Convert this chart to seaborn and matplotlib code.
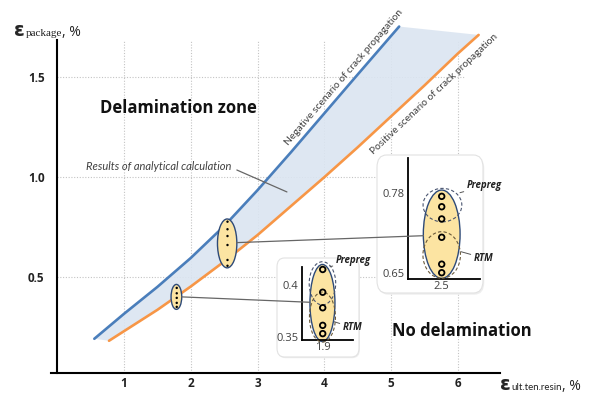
import numpy as np
import matplotlib
matplotlib.use("Agg")
import matplotlib.pyplot as plt
from matplotlib.patches import Ellipse, FancyBboxPatch, ConnectionPatch
import seaborn as sns

# ---- data -------------------------------------------------------------
# ultimate tensile strain of resin (x, %) vs package strain (y, %)
neg_x = [0.556, 1.0, 1.5, 2.0, 2.5, 3.0, 3.5, 4.0, 4.5, 5.12]
neg_y = [0.19, 0.315, 0.45, 0.595, 0.755, 0.935, 1.125, 1.32, 1.515, 1.755]
pos_x = [0.776, 1.0, 1.5, 2.0, 2.5, 3.0, 3.5, 4.0, 4.5, 5.0, 5.5, 6.0, 6.31]
pos_y = [0.18, 0.228, 0.335, 0.452, 0.577, 0.71, 0.855, 1.0, 1.15, 1.305,
         1.46, 1.62, 1.713]

x_ticks = [1, 2, 3, 4, 5, 6]
y_ticks = [0.5, 1.0, 1.5]
y_tick_labels = ["0.5", "1.0", "1.5"]

# measured groups on the main chart
grp_small_x = 1.79
grp_small_y = [0.445, 0.418, 0.395, 0.37, 0.35]
grp_big_x = 2.55
grp_big_y = [0.777, 0.739, 0.705, 0.66, 0.585, 0.556]

# zoomed groups (Prepreg / RTM)
zoom_small_x = 1.9
zoom_small_y = [0.415, 0.393, 0.378, 0.361, 0.353]
zoom_small_ticks = [0.35, 0.4]
zoom_small_labels = ["0.35", "0.4"]
zoom_big_x = 2.5
zoom_big_y = [0.775, 0.758, 0.738, 0.708, 0.664, 0.65]
zoom_big_ticks = [0.65, 0.78]
zoom_big_labels = ["0.65", "0.78"]

# ---- style ------------------------------------------------------------
sns.set_theme(style="white")
plt.rcParams["font.family"] = ["Open Sans", "DejaVu Sans"]

W, H = 597, 394
BLUE = "#4a7ebb"
ORANGE = "#f79646"
FILL = "#dbe5f1"
YELLOW = "#fce4a2"
EDGE = "#2e4a78"
GRID = "#c4c4c4"
TXT = "#404040"


def frac(px, py):
    return px / W, 1 - py / H


fig = plt.figure(figsize=(W / 100, H / 100), dpi=100)
fig.patch.set_facecolor("white")

# ---- main axes --------------------------------------------------------
ax = fig.add_axes([50.5 / W, 1 - 373 / H, 449.5 / W, 368 / H])
ax.set_xlim(-0.1, 6.63)
ax.set_ylim(0.0185, 1.863)
ax.patch.set_visible(False)
for s in ("top", "right"):
    ax.spines[s].set_visible(False)
ax.spines["left"].set_position(("data", 0))
ax.spines["left"].set_bounds(0.0185, 1.69)
for s in ("left", "bottom"):
    ax.spines[s].set_color("black")
    ax.spines[s].set_linewidth(1.5)

ax.set_xticks(x_ticks)
ax.set_xticklabels([str(t) for t in x_ticks])
ax.set_yticks(y_ticks)
ax.set_yticklabels(y_tick_labels)
ax.tick_params(length=0)
ax.tick_params(axis="x", pad=3)
ax.tick_params(axis="y", pad=9)
for lab in ax.get_xticklabels() + ax.get_yticklabels():
    lab.set_fontweight("bold")
    lab.set_fontsize(8.5)
    lab.set_color("#222222")

ax.vlines(x_ticks, 0.0185, 1.69, colors=GRID, linestyles=(0, (1, 1.5)),
          lw=0.8, zorder=0.5)
ax.hlines(y_ticks, 0, 6.1, colors=GRID, linestyles=(0, (1, 1.5)),
          lw=0.8, zorder=0.5)

# band between the two scenarios
ax.fill(np.r_[neg_x, pos_x[::-1]], np.r_[neg_y, pos_y[::-1]],
        color=FILL, alpha=0.9, lw=0, zorder=1)
sns.lineplot(x=neg_x, y=neg_y, ax=ax, color=BLUE, lw=1.9, zorder=3,
             estimator=None, sort=False)
sns.lineplot(x=pos_x, y=pos_y, ax=ax, color=ORANGE, lw=1.9, zorder=3,
             estimator=None, sort=False)

# groups on the band
ax.add_patch(Ellipse((1.785, 0.40), 0.16, 0.125, fc=YELLOW, ec=EDGE,
                     lw=1.0, zorder=4))
ax.add_patch(Ellipse((2.545, 0.668), 0.29, 0.245, fc=YELLOW, ec=EDGE,
                     lw=1.0, zorder=4))
sns.scatterplot(x=[grp_small_x] * len(grp_small_y), y=grp_small_y, ax=ax,
                color="black", s=3, edgecolor="none", zorder=5, legend=False)
sns.scatterplot(x=[grp_big_x] * len(grp_big_y), y=grp_big_y, ax=ax,
                color="black", s=3, edgecolor="none", zorder=5, legend=False)

# labels
ax.text(1.81, 1.347, "Delamination zone", fontsize=12, fontweight="bold",
        ha="center", va="center", color="#111111")
ax.text(6.06, 0.23, "No delamination", fontsize=12, fontweight="bold",
        ha="center", va="center", color="#111111")
ax.text(1.52, 1.056, "Results of analytical calculation", fontsize=8,
        style="italic", ha="center", va="center", color=TXT, family="Lato")
ax.plot([2.69, 3.44], [1.036, 0.926], color="#666666", lw=0.9, zorder=6)
ax.text(4.30, 1.50, "Negative scenario of crack propagation", fontsize=7.4,
        rotation=49.3, rotation_mode="anchor", ha="center", va="center",
        color=TXT, family="Lato")
ax.text(5.64, 1.416, "Positive scenario of crack propagation", fontsize=7.4,
        rotation=43.3, rotation_mode="anchor", ha="center", va="center",
        color=TXT, family="Lato")

# axis titles
fig.text(*frac(14, 36.5), "ε", fontsize=14, fontweight="bold",
         va="baseline", ha="left", family="DejaVu Sans")
fig.text(*frac(26, 36.5), "package", fontsize=8, va="baseline", ha="left",
         family="Liberation Serif", color="#222222")
fig.text(*frac(62, 36.5), ", %", fontsize=10, va="baseline", ha="left",
         color="#222222")
fig.text(*frac(500, 390), "ε", fontsize=14, fontweight="bold",
         va="baseline", ha="left", family="DejaVu Sans")
fig.text(*frac(511, 390), "ult.ten.resin", fontsize=7, va="baseline",
         ha="left", family="Lato", color="#222222")
fig.text(*frac(562, 390), ", %", fontsize=10, va="baseline", ha="left",
         color="#222222")


# ---- zoomed panels ----------------------------------------------------
def zoom_panel(box_px, xlim, ylim, sx, sy, xb, yb):
    x0, y0, x1, y1 = box_px
    a = fig.add_axes([x0 / W, 1 - y1 / H, (x1 - x0) / W, (y1 - y0) / H])
    a.set_xlim(*xlim)
    a.set_ylim(*ylim)
    a.patch.set_visible(False)
    a.add_patch(FancyBboxPatch((0.012, -0.012), 1, 1,
                               boxstyle="round,pad=0,rounding_size=0.09",
                               transform=a.transAxes, fc="#eeeeee",
                               ec="none", clip_on=False, zorder=-2))
    a.add_patch(FancyBboxPatch((0, 0), 1, 1,
                               boxstyle="round,pad=0,rounding_size=0.09",
                               transform=a.transAxes, fc="white",
                               ec="#e2e2e2", lw=0.8, clip_on=False,
                               zorder=-1))
    for s in ("top", "right"):
        a.spines[s].set_visible(False)
    a.spines["left"].set_position(("data", sx))
    a.spines["left"].set_bounds(*yb)
    a.spines["bottom"].set_position(("data", sy))
    a.spines["bottom"].set_bounds(*xb)
    for s in ("left", "bottom"):
        a.spines[s].set_color("black")
        a.spines[s].set_linewidth(1.3)
    a.tick_params(axis="y", direction="inout", length=4, width=0.8,
                  color=TXT, labelsize=8, labelcolor=TXT, pad=1)
    a.tick_params(axis="x", length=0, labelsize=8, labelcolor=TXT, pad=1.5)
    return a


def tag(a, text, xy, xytext):
    a.annotate(text, xy=xy, xytext=xytext, fontsize=7, fontweight="bold",
               style="italic", ha="left", va="center", color="#222222",
               annotation_clip=False,
               arrowprops=dict(arrowstyle="-", color="#555555", lw=0.7,
                               shrinkA=0, shrinkB=0))


ax_big = zoom_panel((377, 155, 483, 293), (2.2412, 2.6652), (0.6168, 0.8427),
                    2.3664, 0.6392, (2.3664, 2.6532), (0.6392, 0.8373))
ax_big.set_yticks(zoom_big_ticks)
ax_big.set_yticklabels(zoom_big_labels)
ax_big.set_xticks([zoom_big_x])
ax_big.set_xticklabels([str(zoom_big_x)])
ax_big.add_patch(Ellipse((2.5, 0.713), 0.147, 0.1446, fc=YELLOW, ec=EDGE,
                         lw=1.0, zorder=2))
ax_big.add_patch(Ellipse((2.503, 0.7607), 0.155, 0.0547, fc="none",
                         ec="#4a5570", lw=0.8, ls=(0, (3, 2)), zorder=3))
ax_big.add_patch(Ellipse((2.5, 0.679), 0.15, 0.0763, fc="none",
                         ec="#6b5a3a", lw=0.8, ls=(0, (3, 2)), zorder=3))
sns.scatterplot(x=[zoom_big_x] * len(zoom_big_y), y=zoom_big_y, ax=ax_big,
                marker="o", s=16, facecolor="none", edgecolor="black",
                linewidth=1.3, zorder=4, legend=False)
tag(ax_big, "Prepreg", (2.5732, 0.781), (2.6012, 0.792))
tag(ax_big, "RTM", (2.5772, 0.6844), (2.6292, 0.674))

ax_small = zoom_panel((277, 258, 359, 357), (1.7172, 2.0452),
                      (0.3304, 0.4261), 1.8184, 0.3468, (1.8184, 2.0212),
                      (0.3468, 0.4177))
ax_small.set_yticks(zoom_small_ticks)
ax_small.set_yticklabels(zoom_small_labels)
ax_small.set_xticks([zoom_small_x])
ax_small.set_xticklabels([str(zoom_small_x)])
ax_small.add_patch(Ellipse((1.899, 0.3826), 0.1, 0.0745, fc=YELLOW, ec=EDGE,
                           lw=1.0, zorder=2))
ax_small.add_patch(Ellipse((1.899, 0.4016), 0.106, 0.0418, fc="none",
                           ec="#4a5570", lw=0.8, ls=(0, (3, 2)), zorder=3))
ax_small.add_patch(Ellipse((1.899, 0.369), 0.104, 0.0484, fc="none",
                           ec="#6b5a3a", lw=0.8, ls=(0, (3, 2)), zorder=3))
sns.scatterplot(x=[zoom_small_x] * len(zoom_small_y), y=zoom_small_y,
                ax=ax_small, marker="o", s=16, facecolor="none",
                edgecolor="black", linewidth=1.3, zorder=4, legend=False)
tag(ax_small, "Prepreg", (1.9292, 0.4177), (1.9532, 0.4232))
tag(ax_small, "RTM", (1.9464, 0.3645), (1.9812, 0.3587))

# leader lines from the groups to their zoomed panels
for (pa, pb, axb) in (((2.69, 0.672), (2.427, 0.7106), ax_big),
                      ((1.865, 0.40), (1.849, 0.3833), ax_small)):
    con = ConnectionPatch(xyA=pa, coordsA="data", axesA=ax,
                          xyB=pb, coordsB="data", axesB=axb,
                          color="#666666", lw=0.9)
    fig.add_artist(con)

fig.savefig("out.png", dpi=100)
